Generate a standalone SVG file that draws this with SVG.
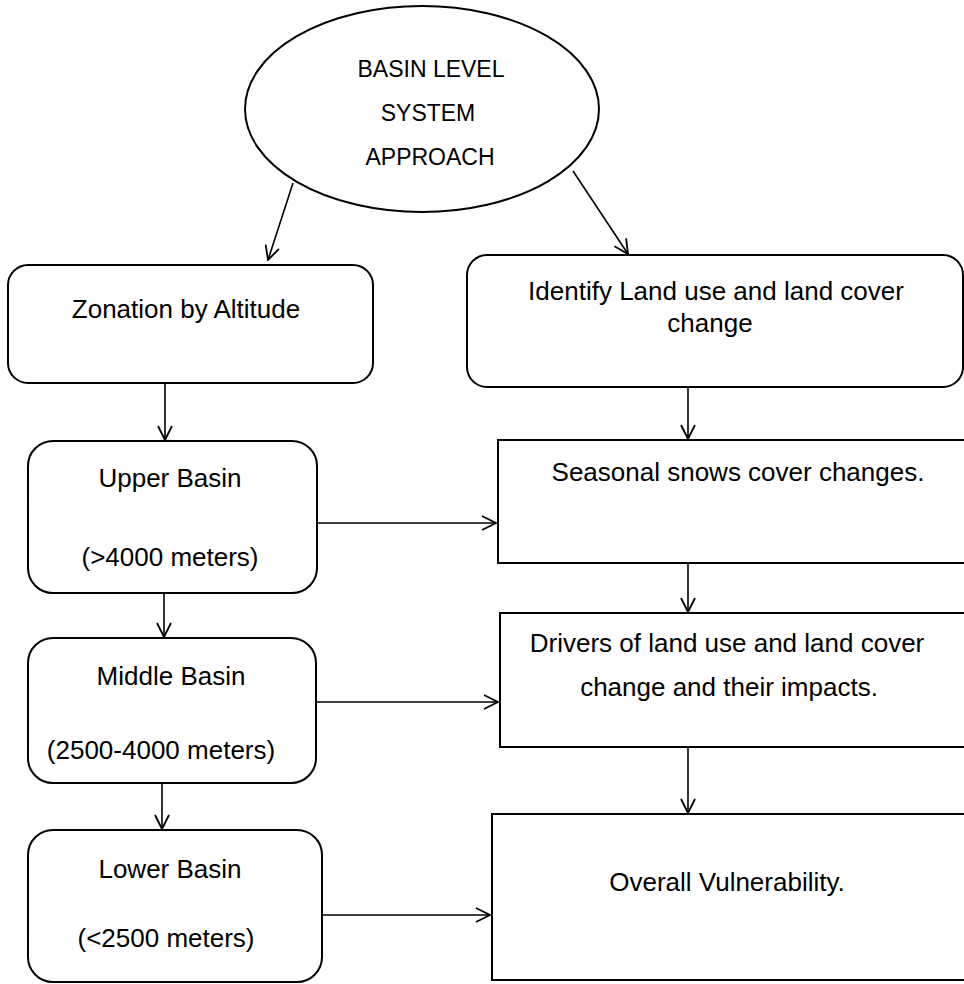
<svg xmlns="http://www.w3.org/2000/svg" width="964" height="984" viewBox="0 0 964 984">
<style>
.node{fill:#fff;stroke:#000;stroke-width:2}
.t{font-family:"Liberation Sans",Arial,sans-serif;font-size:26px;fill:#000;text-anchor:middle}
.te{font-family:"Liberation Sans",Arial,sans-serif;font-size:23px;fill:#000;text-anchor:middle}
.c{stroke:#000;stroke-width:1.6;fill:none;marker-end:url(#arr)}
</style>
<defs>
<marker id="arr" markerUnits="userSpaceOnUse" viewBox="0 0 16 16" refX="15" refY="8" markerWidth="16" markerHeight="16" orient="auto">
<path d="M1,1 L15,8 L1,15" fill="none" stroke="#000" stroke-width="1.8"/>
</marker>
</defs>
<rect width="964" height="984" fill="#fff"/>
<g id="connectors">
<line class="c" x1="293" y1="183" x2="268" y2="260"/>
<line class="c" x1="573" y1="171" x2="628" y2="254"/>
<line class="c" x1="165" y1="383" x2="165" y2="440"/>
<line class="c" x1="688" y1="387" x2="688" y2="439"/>
<line class="c" x1="317" y1="523" x2="496" y2="523"/>
<line class="c" x1="164" y1="593" x2="164" y2="637"/>
<line class="c" x1="688" y1="563" x2="688" y2="612"/>
<line class="c" x1="316" y1="702" x2="498" y2="702"/>
<line class="c" x1="162" y1="783" x2="162" y2="829"/>
<line class="c" x1="688" y1="747" x2="688" y2="813"/>
<line class="c" x1="322" y1="915" x2="490" y2="915"/>
</g>
<g id="basin">
<ellipse class="node" cx="422" cy="109" rx="177" ry="103"/>
<text class="te" x="431" y="77">BASIN LEVEL</text>
<text class="te" x="428" y="121">SYSTEM</text>
<text class="te" x="430" y="165">APPROACH</text>
</g>
<g id="zonation">
<rect class="node" x="8" y="265" width="365" height="118" rx="20"/>
<text class="t" x="186" y="318">Zonation by Altitude</text>
</g>
<g id="identify">
<rect class="node" x="467" y="255" width="496" height="132" rx="20"/>
<text class="t" x="716" y="300">Identify Land use and land cover</text>
<text class="t" x="710" y="332">change</text>
</g>
<g id="upper">
<rect class="node" x="28" y="441" width="289" height="152" rx="25"/>
<text class="t" x="170" y="487">Upper Basin</text>
<text class="t" x="170" y="566">(&gt;4000 meters)</text>
</g>
<g id="seasonal">
<rect class="node" x="498" y="440" width="470" height="123"/>
<text class="t" x="738" y="481">Seasonal snows cover changes.</text>
</g>
<g id="middle">
<rect class="node" x="28" y="638" width="288" height="145" rx="25"/>
<text class="t" x="171" y="685">Middle Basin</text>
<text class="t" x="161" y="759">(2500-4000 meters)</text>
</g>
<g id="drivers">
<rect class="node" x="500" y="613" width="470" height="134"/>
<text class="t" x="727" y="652">Drivers of land use and land cover</text>
<text class="t" x="729" y="696">change and their impacts.</text>
</g>
<g id="lower">
<rect class="node" x="28" y="830" width="294" height="152" rx="25"/>
<text class="t" x="170" y="878">Lower Basin</text>
<text class="t" x="166" y="947">(&lt;2500 meters)</text>
</g>
<g id="overall">
<rect class="node" x="492" y="814" width="480" height="166"/>
<text class="t" x="727" y="891">Overall Vulnerability.</text>
</g>
</svg>
